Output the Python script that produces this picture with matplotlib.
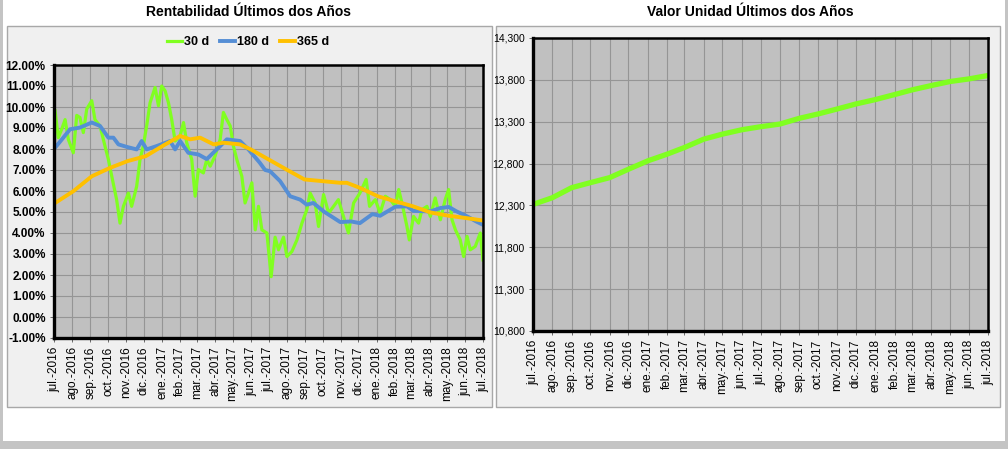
import numpy as np
import pandas as pd
import matplotlib
matplotlib.use("Agg")
import matplotlib.pyplot as plt
from matplotlib.patches import Rectangle

plt.rcParams['font.family'] = ['Liberation Sans Narrow', 'Liberation Sans', 'DejaVu Sans']

# ---- data (x given as months after 1 jul 2016) ----
t30 = [0.06, 0.24, 0.43, 0.62, 0.8, 1.08, 1.27, 1.45, 1.64, 1.83, 2.11, 2.29, 2.57, 2.85,
       3.04, 3.23, 3.5, 3.69, 3.88, 4.16, 4.34, 4.62, 4.81, 4.99, 5.18, 5.37, 5.65, 5.84,
       6.02, 6.21, 6.4, 6.58, 6.77, 7.05, 7.24, 7.42, 7.7, 7.89, 8.07, 8.35, 8.54, 8.73,
       9.0, 9.29, 9.47, 9.66, 9.85, 10.03, 10.22, 10.5, 10.68, 10.87, 11.06, 11.25, 11.43,
       11.62, 11.9, 12.14, 12.36, 12.55, 12.83, 13.02, 13.3, 13.58, 13.86, 14.13, 14.32,
       14.6, 14.79, 15.07, 15.35, 15.63, 15.9, 16.18, 16.46, 16.75, 17.1, 17.45, 17.64,
       17.96, 18.23, 18.52, 18.8, 19.08, 19.27, 19.45, 19.73, 19.86, 20.1, 20.38, 20.57,
       20.85, 21.04, 21.31, 21.6, 21.87, 22.06, 22.25, 22.44, 22.71, 22.9, 23.09, 23.27,
       23.55, 23.83, 23.98]
r30 = [9.82, 8.54, 8.94, 9.4, 8.46, 7.82, 9.6, 9.5, 8.78, 9.9, 10.3, 9.4, 9.1, 8.14,
       7.5, 6.7, 5.59, 4.47, 5.27, 5.9, 5.27, 6.22, 7.5, 8.14, 9.1, 10.2, 10.93, 10.06,
       11.0, 10.77, 10.2, 9.4, 8.38, 8.62, 9.26, 8.3, 7.5, 5.75, 7.02, 6.86, 7.5, 7.18,
       7.66, 8.46, 9.74, 9.4, 9.1, 8.14, 7.5, 6.7, 5.43, 5.9, 6.39, 4.15, 5.27,
       4.15, 4.0, 1.92, 3.8, 3.2, 3.8, 2.88, 3.12, 3.67, 4.47, 5.1, 5.9,
       5.43, 4.31, 5.83, 4.95, 5.27, 5.59, 4.79, 4.0, 5.43, 5.9, 6.55, 5.27,
       5.59, 4.95, 5.75, 5.59, 5.27, 6.07, 5.43, 4.31, 3.67, 4.79, 4.47, 5.11,
       5.27, 4.79, 5.67, 4.63, 5.59, 6.07, 4.63, 4.15, 3.67, 2.88, 3.84, 3.2,
       3.36, 4.0, 2.72]

t180 = [0.06, 0.52, 0.9, 1.45, 2.11, 2.57, 3.04, 3.32, 3.6, 4.07, 4.62, 4.9, 5.18, 5.74,
        6.49, 6.77, 7.05, 7.51, 8.07, 8.54, 9.29, 9.66, 10.4, 10.87, 11.5, 11.8, 12.08,
        12.64, 13.2, 13.76, 14.13, 14.5, 15.07, 16.0, 16.6, 17.1, 17.8, 18.23, 19.08,
        19.73, 20.1, 21.04, 21.6, 22.07, 22.5, 23.1, 23.6, 23.98]
r180 = [8.06, 8.54, 8.94, 9.02, 9.26, 9.1, 8.54, 8.54, 8.22, 8.1, 7.98, 8.38, 7.98, 8.14,
        8.38, 7.98, 8.38, 7.82, 7.74, 7.52, 8.14, 8.46, 8.38, 7.98, 7.35, 7.0, 6.94,
        6.47, 5.75, 5.59, 5.35, 5.43, 5.03, 4.52, 4.55, 4.47, 4.9, 4.82, 5.25,
        5.27, 5.05, 5.03, 5.19, 5.24, 5.03, 4.79, 4.55, 4.39]

t365 = [0.06, 1.08, 2.11, 3.13, 4.1, 5.13, 6.12, 7.05, 7.61, 8.17, 8.92, 9.47, 10.4, 11.0,
        12.0, 13.0, 14.0, 15.0, 16.0, 16.37, 17.1, 18.1, 19.08, 20.07, 21.04, 22.07,
        23.05, 23.93]
r365 = [5.43, 5.99, 6.7, 7.1, 7.42, 7.66, 8.17, 8.62, 8.46, 8.54, 8.22, 8.3, 8.22, 7.98,
        7.5, 7.02, 6.55, 6.47, 6.39, 6.39, 6.15, 5.75, 5.51, 5.27, 4.98, 4.82,
        4.71, 4.6]

# valor unidad, one value per month start jul-2016 .. jul-2018
valor = [12312, 12392, 12512, 12572, 12632, 12732, 12832, 12912, 12992, 13092, 13152, 13204,
         13240, 13272, 13340, 13392, 13452, 13512, 13564, 13624, 13680, 13732, 13780, 13812,
         13852]

meses = ['jul.', 'ago.', 'sep.', 'oct.', 'nov.', 'dic.', 'ene.', 'feb.', 'mar.', 'abr.', 'may.', 'jun.']

start = pd.Timestamp('2016-07-01')
month_starts = pd.date_range('2016-07-01', '2018-07-01', freq='MS')
month_labels = ['{}-{}'.format(meses[i % 12], d.year) for i, d in enumerate(month_starts)]


def to_dates(t):
    return start + pd.to_timedelta(np.array(t) * 30.44, unit='D')


W, H = 1008, 449
fig = plt.figure(figsize=(W / 100, H / 100), dpi=100)
fig.patch.set_facecolor('white')


def box(x0, y0, x1, y1, fc, ec='none', lw=0):
    fig.patches.append(Rectangle((x0 / W, 1 - y1 / H), (x1 - x0) / W, (y1 - y0) / H,
                                 transform=fig.transFigure, facecolor=fc, edgecolor=ec,
                                 linewidth=lw, zorder=-5))


# outer gray frame
box(0, 0, 3, H, '#c4c4c4')
box(0, 441, W, H, '#c4c4c4')
box(1005, 0, W, H, '#c4c4c4')
# panels
box(7, 26, 492, 407, '#f0f0f0', '#a8a8a8', 1)
box(496, 26, 1000, 407, '#f0f0f0', '#a8a8a8', 1)

fig.text(248 / W, 1 - 12 / H, 'Rentabilidad Últimos dos Años', ha='center', va='center',
         fontsize=10, fontweight='bold', family=['Liberation Sans', 'DejaVu Sans'])
fig.text(750 / W, 1 - 12 / H, 'Valor Unidad Últimos dos Años', ha='center', va='center',
         fontsize=10, fontweight='bold', family=['Liberation Sans', 'DejaVu Sans'])


def style(ax):
    ax.set_facecolor('#c0c0c0')
    ax.grid(True, color='#959595', linewidth=0.8)
    ax.set_axisbelow(True)
    for s in ax.spines.values():
        s.set_color('black')
        s.set_linewidth(1.8)
    ax.spines['left'].set_linewidth(2.4)
    ax.spines['bottom'].set_linewidth(2.4)
    ax.set_xlim(month_starts[0], month_starts[-1])
    ax.set_xticks(month_starts)
    ax.set_xticklabels(month_labels, rotation=90, fontsize=8.5,
                       family=['Liberation Sans', 'DejaVu Sans'])
    ax.tick_params(length=3, width=0.6, color='#555555', pad=3)


# ---- left: rentabilidad ----
ax1 = fig.add_axes([54 / W, 1 - 338 / H, (483 - 54) / W, (338 - 65) / H])
style(ax1)
ax1.plot(to_dates(t30), r30, color='#80ff20', lw=2.3, label='30 d')
ax1.plot(to_dates(t180), r180, color='#558ed5', lw=2.8, label='180 d')
ax1.plot(to_dates(t365), r365, color='#ffc000', lw=2.8, label='365 d')
ax1.set_ylim(-1, 12)
ax1.set_yticks(np.arange(-1, 13, 1))
ax1.set_yticklabels(['{:.2f}%'.format(v) for v in np.arange(-1, 13, 1)],
                    fontsize=8.5, fontweight='bold')
fig.legend(loc='center', bbox_to_anchor=(248 / W, 1 - 42 / H), ncol=3, frameon=False,
           handlelength=1.2, handletextpad=0.15, columnspacing=0.9,
           prop={'size': 9, 'weight': 'bold'})

# ---- right: valor unidad ----
ax2 = fig.add_axes([533 / W, 1 - 331 / H, (988 - 533) / W, (331 - 38) / H])
style(ax2)
ax2.plot(month_starts, valor, color='#80ff20', lw=3.8)
ax2.set_ylim(10800, 14300)
ax2.set_yticks(np.arange(10800, 14301, 500))
ax2.set_yticklabels(['{:,}'.format(v) for v in np.arange(10800, 14301, 500)], fontsize=7.5)

fig.savefig('out.png', dpi=100)
